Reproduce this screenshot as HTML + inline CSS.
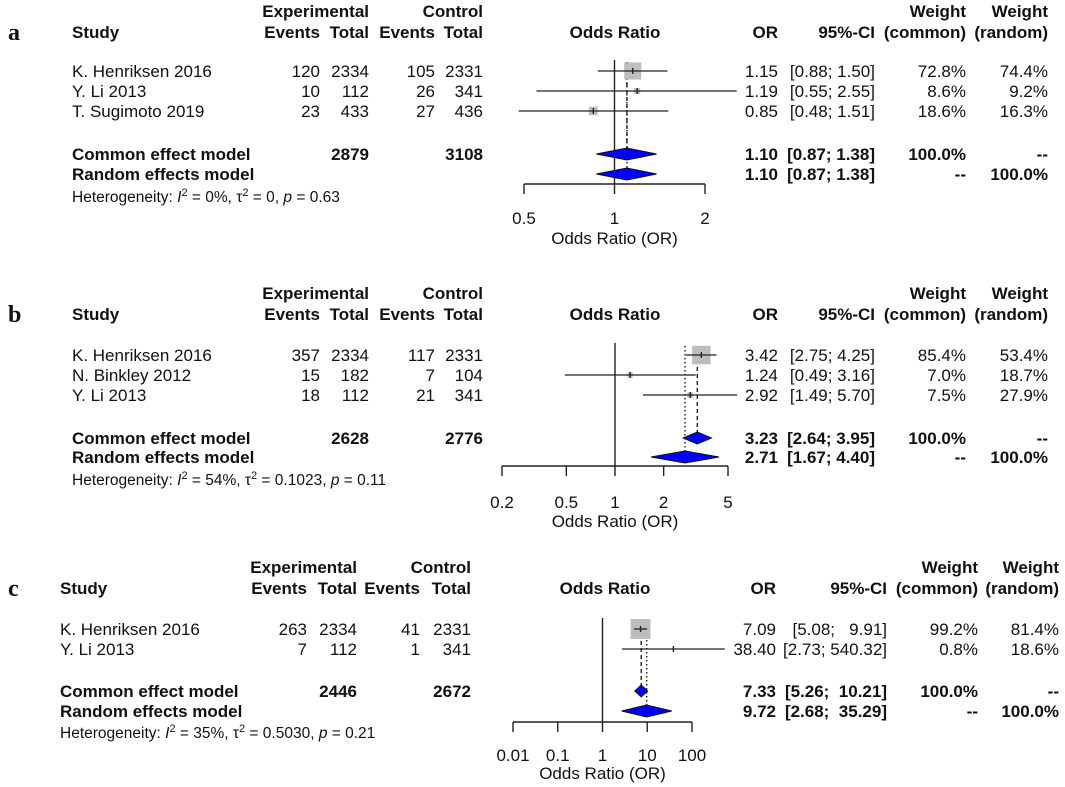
<!DOCTYPE html>
<html><head><meta charset="utf-8"><style>
html,body{margin:0;padding:0;background:#fff;}
svg{display:block;font-family:"Liberation Sans",Arial,sans-serif;}
text{fill:#111;white-space:pre;}
.b{font-weight:bold;}
.lab{font-family:"Liberation Serif",serif;font-weight:bold;font-size:24px;}
</style></head><body>
<svg id="chart" width="1065" height="787" viewBox="0 0 1065 787" xmlns="http://www.w3.org/2000/svg"></svg>
<script>
// ---- Panel a data ----
const aStudies=["K. Henriksen 2016","Y. Li 2013","T. Sugimoto 2019"];
const aExpEvents=["120","10","23"],aExpTotal=["2334","112","433"],aCtlEvents=["105","26","27"],aCtlTotal=["2331","341","436"];
const aOR=[1.15,1.19,0.85],aLo=[0.88,0.55,0.48],aHi=[1.50,2.55,1.51];
const aWCommon=[72.8,8.6,18.6],aWRandom=[74.4,9.2,16.3];
const aModelOR=[1.10,1.10],aModelLo=[0.87,0.87],aModelHi=[1.38,1.38];
const aModelTotals=[["2879","3108"]];
const aTicks=[0.5,1,2],aTickLabels=["0.5","1","2"];
const aHet=["0%","0","0.63"];
// ---- Panel b data ----
const bStudies=["K. Henriksen 2016","N. Binkley 2012","Y. Li 2013"];
const bExpEvents=["357","15","18"],bExpTotal=["2334","182","112"],bCtlEvents=["117","7","21"],bCtlTotal=["2331","104","341"];
const bOR=[3.42,1.24,2.92],bLo=[2.75,0.49,1.49],bHi=[4.25,3.16,5.70];
const bWCommon=[85.4,7.0,7.5],bWRandom=[53.4,18.7,27.9];
const bModelOR=[3.23,2.71],bModelLo=[2.64,1.67],bModelHi=[3.95,4.40];
const bModelTotals=[["2628","2776"]];
const bTicks=[0.2,0.5,1,2,5],bTickLabels=["0.2","0.5","1","2","5"];
const bHet=["54%","0.1023","0.11"];
// ---- Panel c data ----
const cStudies=["K. Henriksen 2016","Y. Li 2013"];
const cExpEvents=["263","7"],cExpTotal=["2334","112"],cCtlEvents=["41","1"],cCtlTotal=["2331","341"];
const cOR=[7.09,38.40],cLo=[5.08,2.73],cHi=[9.91,540.32];
const cWCommon=[99.2,0.8],cWRandom=[81.4,18.6];
const cModelOR=[7.33,9.72],cModelLo=[5.26,2.68],cModelHi=[10.21,35.29];
const cModelTotals=[["2446","2672"]];
const cTicks=[0.01,0.1,1,10,100],cTickLabels=["0.01","0.1","1","10","100"];
const cHet=["35%","0.5030","0.21"];

const NS="http://www.w3.org/2000/svg";
const svg=document.getElementById('chart');
function mk(tag,attrs,parent,txt){const e=document.createElementNS(NS,tag);for(const k in attrs)e.setAttribute(k,attrs[k]);if(txt!==undefined)e.textContent=txt;(parent||svg).appendChild(e);return e;}
function fmt2(v){return v.toFixed(2);}
function fmtCI(lo,hi,pad){let h=fmt2(hi);while(h.length<pad)h=" "+h;return "["+fmt2(lo)+"; "+h+"]";}

function panel(P,D){
  const g=mk('g',{});
  
  
  const X=v=>P.x1+(Math.log10(v)-Math.log10(P.t0))*(P.x2-P.x1)/(Math.log10(P.t1)-Math.log10(P.t0));
  const T=(x,y,s,cls,anchor,name,size)=>{const t=mk('text',{x:x,y:y+6,'font-size':size||17,'text-anchor':anchor||'start'},g,s);if(cls)t.setAttribute('class',cls);return t;};
  const lab=mk('text',{x:8,y:P.h2+8,class:'lab'},g,P.id);
  
  T(P.c[1],P.h1,"Experimental","b","end","experimental-header");
  T(P.c[3],P.h1,"Control","b","end","control-header");
  T(P.r[2],P.h1,"Weight","b","end","weight-common-header");
  T(P.r[3],P.h1,"Weight","b","end","weight-random-header");
  T(P.c0,P.h2,"Study","b","start","study-header");
  T(P.c[0],P.h2,"Events","b","end","exp-events-header");
  T(P.c[1],P.h2,"Total","b","end","exp-total-header");
  T(P.c[2],P.h2,"Events","b","end","ctl-events-header");
  T(P.c[3],P.h2,"Total","b","end","ctl-total-header");
  T(P.ohx,P.h2,"Odds Ratio","b","middle","odds-ratio-header");
  T(P.r[0],P.h2,"OR","b","end","or-header");
  T(P.r[1],P.h2,"95%-CI","b","end","ci-header");
  T(P.r[2],P.h2,"(common)","b","end","weight-common-subheader");
  T(P.r[3],P.h2,"(random)","b","end","weight-random-subheader");
  const ay=P.axisY;
  mk('line',{x1:X(P.t0),x2:X(P.t1),y1:ay,y2:ay,stroke:'#222','stroke-width':1.4},g);
  D.ticks.forEach((t,i)=>{
    mk('line',{x1:X(t),x2:X(t),y1:ay,y2:ay+10,stroke:'#222','stroke-width':1.4},g);
    T(X(t),P.tickY,D.tickLabels[i],null,"middle","x-tick-label");
  });
  T(X(1),P.titleY,"Odds Ratio (OR)",null,"middle","x-axis-title");
  mk('line',{x1:X(1),x2:X(1),y1:P.refTop,y2:ay,stroke:'#222','stroke-width':1.4},g);
  const dc=mk('line',{x1:X(D.mOR[0]),x2:X(D.mOR[0]),y1:P.rows[0]-9,y2:P.mRows[0]-5,stroke:'#222','stroke-width':1.4,'stroke-dasharray':'4,3'},g);
  
  const dr=mk('line',{x1:X(D.mOR[1]),x2:X(D.mOR[1]),y1:P.rows[0]-9,y2:P.mRows[1]-5,stroke:'#222','stroke-width':1.4,'stroke-dasharray':'1.5,2.5'},g);
  
  D.studies.forEach((s,i)=>{
    const y=P.rows[i];
    T(P.c0,y,s,null,"start","study-name");
    T(P.c[0],y,D.ee[i],null,"end","exp-events");
    T(P.c[1],y,D.et[i],null,"end","exp-total");
    T(P.c[2],y,D.ce[i],null,"end","ctl-events");
    T(P.c[3],y,D.ct[i],null,"end","ctl-total");
    T(P.r[0],y,fmt2(D.or[i]),null,"end","or-value");
    T(P.r[1],y,fmtCI(D.lo[i],D.hi[i],P.pad),null,"end","ci-value");
    T(P.r[2],y,D.wc[i].toFixed(1)+"%",null,"end","weight-common");
    T(P.r[3],y,D.wr[i].toFixed(1)+"%",null,"end","weight-random");
    const sz=20*Math.sqrt(D.wc[i]/100);
    const sq=mk('rect',{x:X(D.or[i])-sz/2,y:y-sz/2,width:sz,height:sz,fill:'#bdbdbd'},g);
    
    const ci=mk('line',{x1:X(D.lo[i]),x2:X(D.hi[i]),y1:y,y2:y,stroke:'#222','stroke-width':1.3},g);
    
    mk('line',{x1:X(D.or[i]),x2:X(D.or[i]),y1:y-3,y2:y+3,stroke:'#222','stroke-width':1.4},g);
  });
  const names=["Common effect model","Random effects model"];
  [0,1].forEach(k=>{
    const y=P.mRows[k];
    T(P.c0,y,names[k],"b","start",k?"random-model-label":"common-model-label");
    if(k===0){T(P.c[1],y,D.mt[0][0],"b","end","exp-total-sum");T(P.c[3],y,D.mt[0][1],"b","end","ctl-total-sum");}
    T(P.r[0],y,fmt2(D.mOR[k]),"b","end","model-or");
    T(P.r[1],y,fmtCI(D.mLo[k],D.mHi[k],P.pad),"b","end","model-ci");
    T(P.r[2],y,k?"--":"100.0%","b","end","model-weight-common");
    T(P.r[3],y,k?"100.0%":"--","b","end","model-weight-random");
    const xl=X(D.mLo[k]),xm=X(D.mOR[k]),xh=X(D.mHi[k]);
    const d=mk('polygon',{points:`${xl},${y} ${xm},${y-6} ${xh},${y} ${xm},${y+6}`,fill:'#0000ff',stroke:'#111','stroke-width':1},g);
    
  });
  const h=mk('text',{x:P.c0,y:P.hetY+5,'font-size':15.5},g);
  
  h.innerHTML=`Heterogeneity: <tspan font-style="italic">I</tspan><tspan dy="-6" font-size="11">2</tspan><tspan dy="6"> = ${D.het[0]}, τ</tspan><tspan dy="-6" font-size="11">2</tspan><tspan dy="6"> = ${D.het[1]}, </tspan><tspan font-style="italic">p</tspan> = ${D.het[2]}`;
}

panel({id:'a',c0:72,c:[320,369,435,483],r:[778,875,966,1048],ohx:615,h1:11,h2:32,rows:[71,91,111],mRows:[154,174],hetY:197,pad:4,
  axisY:184,tickY:218,titleY:238,refTop:60,t0:0.5,t1:2,x1:524,x2:705},
 {studies:aStudies,ee:aExpEvents,et:aExpTotal,ce:aCtlEvents,ct:aCtlTotal,or:aOR,lo:aLo,hi:aHi,wc:aWCommon,wr:aWRandom,
  mOR:aModelOR,mLo:aModelLo,mHi:aModelHi,mt:aModelTotals,ticks:aTicks,tickLabels:aTickLabels,het:aHet});
panel({id:'b',c0:72,c:[320,369,435,483],r:[778,875,966,1048],ohx:615,h1:293,h2:314,rows:[355,375,395],mRows:[438,457],hetY:480,pad:4,
  axisY:466,tickY:502,titleY:521,refTop:343,t0:0.2,t1:5,x1:502,x2:728},
 {studies:bStudies,ee:bExpEvents,et:bExpTotal,ce:bCtlEvents,ct:bCtlTotal,or:bOR,lo:bLo,hi:bHi,wc:bWCommon,wr:bWRandom,
  mOR:bModelOR,mLo:bModelLo,mHi:bModelHi,mt:bModelTotals,ticks:bTicks,tickLabels:bTickLabels,het:bHet});
panel({id:'c',c0:60,c:[307,357,420,471],r:[776,887,978,1059],ohx:605,h1:567,h2:588,rows:[629,649],mRows:[691,711],hetY:733,pad:6,
  axisY:722,tickY:755,titleY:773,refTop:618,t0:0.01,t1:100,x1:513,x2:692},
 {studies:cStudies,ee:cExpEvents,et:cExpTotal,ce:cCtlEvents,ct:cCtlTotal,or:cOR,lo:cLo,hi:cHi,wc:cWCommon,wr:cWRandom,
  mOR:cModelOR,mLo:cModelLo,mHi:cModelHi,mt:cModelTotals,ticks:cTicks,tickLabels:cTickLabels,het:cHet});
</script>
</body></html>
